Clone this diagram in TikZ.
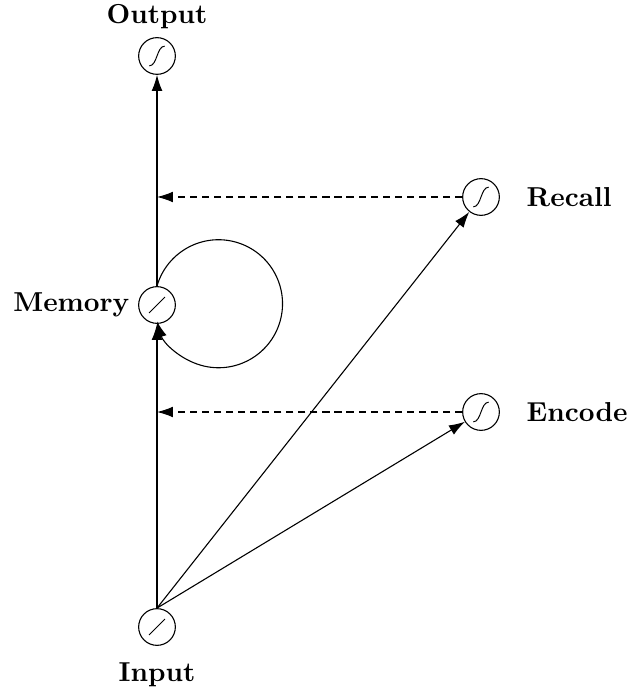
\documentclass[tikz,border=0pt]{standalone}
\usetikzlibrary{arrows.meta}
\begin{document}
\begin{tikzpicture}[x=0.365pt,y=-0.365pt,
  unit/.style={circle,draw,line width=0.4pt,minimum size=13.4pt,inner sep=0pt},
  sig/.style={unit,path picture={\draw[line width=0.35pt] ([shift={(-2.8pt,-3.6pt)}]path picture bounding box.center) .. controls +(2.9pt,0pt) and +(-2.9pt,0pt) .. ([shift={(2.8pt,3.6pt)}]path picture bounding box.center);}},
  lin/.style={unit,path picture={\draw[line width=0.35pt] ([shift={(-2.9pt,-2.9pt)}]path picture bounding box.center) -- ([shift={(2.9pt,2.9pt)}]path picture bounding box.center);}},
  lbl/.style={font=\bfseries},
  arr/.style={line width=0.4pt,-{Latex[length=5.8pt,width=3.9pt]}},
  dsh/.style={arr,dash pattern=on 2.6pt off 1.8pt}]
\useasboundingbox (0,0) rectangle (641,690);
\node[sig] (out) at (157,56) {};
\node[lin] (mem) at (157,305) {};
\node[lin] (in) at (157,627) {};
\node[sig] (rec) at (481,197) {};
\node[sig] (enc) at (481,412) {};
\node[lbl] (outl) at (157,17) {Output};
\node[lbl] (inl) at (157,675) {Input};
\node[lbl,anchor=east] (meml) at (139,305) {Memory};
\node[lbl,anchor=west] (recl) at (517,197) {Recall};
\node[lbl,anchor=west] (encl) at (517,412) {Encode};
\coordinate (r1) at (157,197);
\coordinate (e1) at (157,412);
\draw[arr] (in) -- (mem);
\draw[arr] (mem) -- (out);
\draw[arr] (in.north) -- (rec);
\draw[arr] (in.north) -- (enc);
\draw[dsh] (rec) -- (r1);
\draw[dsh] (enc) -- (e1);
\draw[arr] (mem.north) arc[start angle=-164, end angle=164, radius=64];
\end{tikzpicture}
\end{document}
